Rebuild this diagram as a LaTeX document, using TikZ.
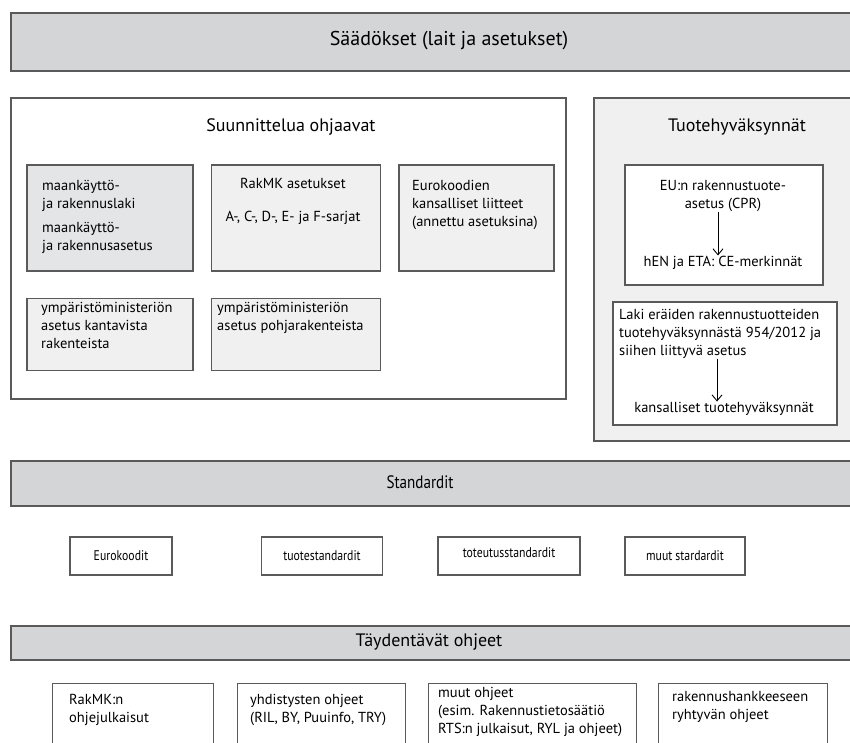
\documentclass[tikz,border=0pt]{standalone}
\usepackage{fontspec}
\setmainfont{PT Sans}
\newfontfamily\narrowfont[FakeStretch=0.84]{PT Sans}
\usepackage{xcolor}
\usetikzlibrary{arrows.meta, positioning}
\definecolor{barfill}{HTML}{D4D5D7}
\definecolor{boxfill}{HTML}{F0F0F0}
\definecolor{lawfill}{HTML}{E4E5E7}
\definecolor{edge}{HTML}{5A5A5A}

\begin{document}
\begin{tikzpicture}[x=1pt, y=-1pt,
    bar/.style={rectangle, draw=edge, fill=barfill, line width=1.5pt,
                minimum width=880pt, anchor=north west, inner sep=0pt},
    group/.style={rectangle, draw=edge, line width=1.5pt, anchor=north west, inner sep=0pt},
    item/.style={rectangle, draw=edge, fill=boxfill, line width=1.5pt,
                 minimum width=166pt, anchor=north west, inner sep=0pt},
    stdbox/.style={rectangle, draw=edge, fill=white, line width=1.2pt, minimum height=38pt,
                   font=\narrowfont\fontsize{14}{17}\selectfont},
    guide/.style={rectangle, draw=edge, fill=white, line width=1.2pt, minimum height=80pt,
                  anchor=north west, inner sep=0pt},
    txt/.style={anchor=north west, inner sep=0pt, align=left, font=\fontsize{14.5}{18}\selectfont},
    head/.style={font=\fontsize{18}{22}\selectfont},
    arrow/.style={-{Straight Barb[length=6pt, width=10pt]}, line width=0.9pt}
]
\path[use as bounding box, fill=white] (0,0) rectangle (850,742);
\clip (0,0) rectangle (850,742);

\node[bar, minimum width=878pt, minimum height=58pt] (laws) at (10,12) {};
\node[font=\fontsize{20}{24}\selectfont] (lawstitle) at (449,41) {Säädökset (lait ja asetukset)};

\node[group, fill=white, minimum width=555pt, minimum height=301pt] (design) at (10,97) {};
\node[head] (designtitle) at (291,127) {Suunnittelua ohjaavat};
\node[item, fill=lawfill, minimum height=106pt] (mrl) at (26,164) {};
\node[item, minimum width=169pt, minimum height=106pt, right=17pt of mrl] (rakmk) {};
\node[item, minimum width=155pt, minimum height=106pt, right=17pt of rakmk] (eurocode) {};
\node[item, minimum height=72pt, below=26pt of mrl] (loadbearing) {};
\node[item, minimum width=169pt, minimum height=72pt, below=26pt of rakmk] (foundation) {};
\node[txt] (mrltext) at (42,180) {maankäyttö-\\ja rakennuslaki\\[6pt]maankäyttö-\\ja rakennusasetus};
\node[txt, align=center, anchor=north] (rakmktext) at (293,178) {RakMK asetukset\\[15pt]A-, C-, D-, E- ja F-sarjat};
\node[txt] (eurocodetext) at (412,180) {Eurokoodien\\kansalliset liitteet\\(annettu asetuksina)};
\node[txt] (loadbearingtext) at (41,302) {ympäristöministeriön\\asetus kantavista\\rakenteista};
\node[txt] (foundationtext) at (217,302) {ympäristöministeriön\\asetus pohjarakenteista};

\node[group, fill=boxfill, minimum width=300pt, minimum height=343pt] (product) at (593,97) {};
\node[head] (producttitle) at (737,127) {Tuotehyväksynnät};
\node[group, fill=white, minimum width=198pt, minimum height=120pt] (cprbox) at (624,164) {};
\node[txt, align=center, anchor=north] (cpr) at (723,180) {EU:n rakennustuote-\\asetus (CPR)};
\node[txt, anchor=base] (cemark) at (723,266) {hEN ja ETA: CE-merkinnät};
\draw[arrow] (cpr.south -| 718,0) -- (cemark.north -| 718,0);
\node[group, fill=white, minimum width=224pt, minimum height=123pt] (nationalbox) at (612,301) {};
\node[txt] (lawtext) at (619,309) {Laki eräiden rakennustuotteiden\\tuotehyväksynnästä 954/2012 ja\\siihen liittyvä asetus};
\node[txt, anchor=base] (national) at (724,412) {kansalliset tuotehyväksynnät};
\draw[arrow] (lawtext.south -| 717,0) -- (national.north -| 717,0);

\node[bar, minimum width=860pt, minimum height=45pt] (std) at (10,460) {};
\node[head, font=\narrowfont\fontsize{18}{22}\selectfont] (stdtitle) at (420,482) {Standardit};
\node[stdbox, minimum width=102pt] (eurocodes) at (121,556) {Eurokoodit};
\node[stdbox, minimum width=121pt] (productstd) at (322,556) {tuotestandardit};
\node[stdbox, minimum width=142pt, text depth=6pt] (executionstd) at (509,556) {toteutusstandardit};
\node[stdbox, minimum width=120pt] (otherstd) at (685,556) {muut stardardit};

\node[bar, minimum width=860pt, minimum height=34pt] (extra) at (10,625) {};
\node[head] (extratitle) at (429,642) {Täydentävät ohjeet};
\node[guide, minimum width=161pt] (rakmkguide) at (52,683) {};
\node[guide, minimum width=168pt] (assocguide) at (237,683) {};
\node[guide, minimum width=208pt] (otherguide) at (428,683) {};
\node[guide, minimum width=169pt] (clientguide) at (658,683) {};
\node[txt] (rakmkguidetext) at (69,694) {RakMK:n\\ohjejulkaisut};
\node[txt] (assocguidetext) at (250,694) {yhdistysten ohjeet\\(RIL, BY, Puuinfo, TRY)};
\node[txt] (otherguidetext) at (438,687) {muut ohjeet\\(esim. Rakennustietosäätiö\\RTS:n julkaisut, RYL ja ohjeet)};
\node[txt] (clientguidetext) at (672,691) {rakennushankkeeseen\\ryhtyvän ohjeet};
\end{tikzpicture}
\end{document}
